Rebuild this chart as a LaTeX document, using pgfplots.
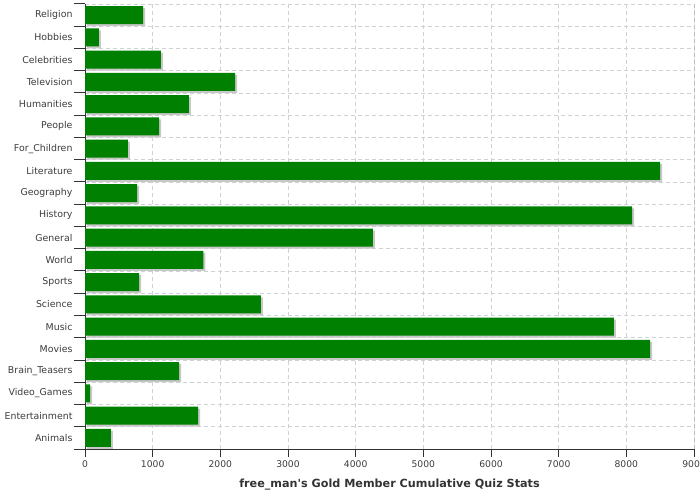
\documentclass[border=0pt]{standalone}
\usepackage{pgfplots}
\pgfplotsset{compat=1.18}
\usepackage{fontspec}
\setmainfont{DejaVu Sans}
\definecolor{bargreen}{RGB}{0,128,0}
\definecolor{shadowc}{RGB}{200,200,200}
\definecolor{gridc}{RGB}{205,210,215}
\definecolor{axisc}{RGB}{51,51,51}
\definecolor{textc}{RGB}{60,60,60}
\begin{document}
\begin{tikzpicture}
\useasboundingbox (-85pt,-51pt) rectangle (615pt,449pt);
\begin{axis}[
  at={(0pt,0pt)}, anchor=south west,
  scale only axis, width=609pt, height=445pt,
  xmin=0, xmax=9000, ymin=-0.5, ymax=19.5,
  xbar, bar width=0.8, bar shift=0pt,
  axis x line*=bottom, axis y line*=left,
  axis line style={axisc, line width=1pt},
  tick align=outside,
  major tick length=8pt, minor tick length=11pt,
  major x tick style={axisc, line width=1pt},
  major y tick style={draw=none},
  minor y tick style={axisc, line width=1pt},
  xtick={0,1000,...,9000},
  scaled x ticks=false,
  /pgf/number format/1000 sep={},
  /pgf/number format/assume math mode=true,
  x tick label style={font=\fontsize{9.2}{10}\selectfont, text=textc},
  y tick label style={font=\fontsize{9.4}{11}\selectfont, text=textc, xshift=-1pt},
  ytick={0,...,19},
  yticklabels={Animals,Entertainment,Video\_Games,Brain\_Teasers,Movies,Music,Science,Sports,World,General,History,Geography,Literature,For\_Children,People,Humanities,Television,Celebrities,Hobbies,Religion},
  minor ytick={-0.5,0.5,...,19.5},
  xmajorgrids=true, yminorgrids=true, ymajorgrids=false,
  grid style={gridc, dash pattern=on 4pt off 3pt, line width=0.7pt},
  minor grid style={gridc, dash pattern=on 4pt off 3pt, line width=0.7pt},
  xlabel={free\_man\textquotesingle s Gold Member Cumulative Quiz Stats},
  xlabel style={font=\bfseries\fontsize{11.2}{13}\selectfont, text=axisc, at={(axis description cs:0.5,0)}, anchor=center, yshift=-36pt},
]
\addplot[fill=shadowc, draw=none, xshift=2pt, yshift=-2pt] coordinates {
(384,0) (1670,1) (75,2) (1390,3) (8350,4) (7815,5) (2600,6) (800,7) (1750,8) (4255,9)
(8085,10) (770,11) (8500,12) (635,13) (1095,14) (1535,15) (2220,16) (1120,17) (205,18) (860,19)};
\addplot[fill=bargreen, draw=none] coordinates {
(384,0) (1670,1) (75,2) (1390,3) (8350,4) (7815,5) (2600,6) (800,7) (1750,8) (4255,9)
(8085,10) (770,11) (8500,12) (635,13) (1095,14) (1535,15) (2220,16) (1120,17) (205,18) (860,19)};
\draw[axisc, line width=1pt] (rel axis cs:1,0) -- (rel axis cs:1,1);
\end{axis}
\end{tikzpicture}
\end{document}
